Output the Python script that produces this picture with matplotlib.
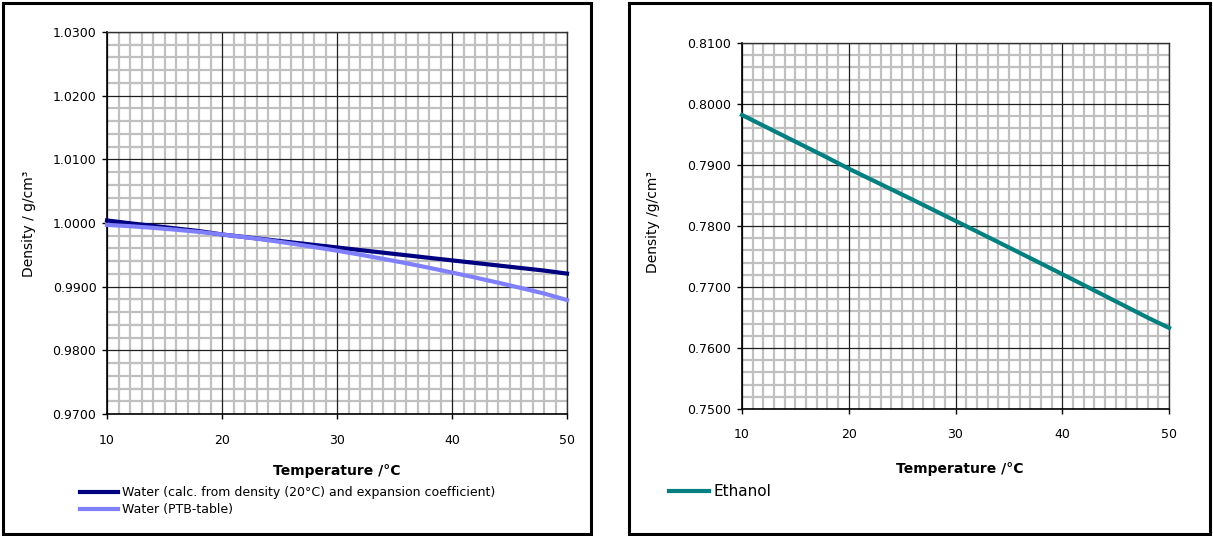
import matplotlib
matplotlib.use("Agg")
import matplotlib.pyplot as plt
from matplotlib.patches import Rectangle
from matplotlib.ticker import MultipleLocator, FormatStrFormatter

plt.rcParams['font.family'] = ['DejaVu Sans']

# ---- data ----
temps = [10, 12, 14, 16, 18, 20, 22, 24, 26, 28, 30, 32, 34, 36, 38, 40, 42, 44, 46, 48, 50]
water_calc = [1.00040, 0.99996, 0.99955, 0.99914, 0.99873, 0.99820, 0.99779, 0.99738, 0.99697,
              0.99656, 0.99616, 0.99575, 0.99534, 0.99494, 0.99453, 0.99413, 0.99373, 0.99333,
              0.99293, 0.99253, 0.99205]
water_ptb = [0.99970, 0.99950, 0.99924, 0.99894, 0.99860, 0.99820, 0.99777, 0.99730, 0.99678,
             0.99623, 0.99565, 0.99503, 0.99437, 0.99369, 0.99297, 0.99222, 0.99144, 0.99063,
             0.98979, 0.98893, 0.98790]
ethanol = [0.79820, 0.79645, 0.79470, 0.79295, 0.79120, 0.78940, 0.78770, 0.78600, 0.78430,
           0.78257, 0.78084, 0.77910, 0.77736, 0.77561, 0.77386, 0.77210, 0.77033, 0.76855,
           0.76677, 0.76498, 0.76330]

x_ticks = [10, 20, 30, 40, 50]
left_yticks = [0.9700, 0.9800, 0.9900, 1.0000, 1.0100, 1.0200, 1.0300]
right_yticks = [0.7500, 0.7600, 0.7700, 0.7800, 0.7900, 0.8000, 0.8100]

label_calc = "Water (calc. from density (20°C) and expansion coefficient)"
label_ptb = "Water (PTB-table)"
label_eth = "Ethanol"

W, H = 1213, 536
fig = plt.figure(figsize=(W / 100, H / 100), dpi=100)

def px_rect(x0, y0, x1, y1):
    return [x0 / W, 1 - y1 / H, (x1 - x0) / W, (y1 - y0) / H]

# panel frames
for (x0, y0, x1, y1) in [(3, 3, 591, 534), (629, 3, 1210, 534)]:
    fig.patches.append(Rectangle((x0 / W, 1 - y1 / H), (x1 - x0) / W, (y1 - y0) / H,
                                 transform=fig.transFigure, fill=False,
                                 edgecolor='black', linewidth=2.2))

def style_axes(ax, yticks, xpad):
    ax.set_xlim(10, 50)
    ax.set_ylim(yticks[0], yticks[-1])
    ax.set_xticks(x_ticks)
    ax.set_yticks(yticks)
    ax.yaxis.set_major_formatter(FormatStrFormatter('%.4f'))
    ax.xaxis.set_minor_locator(MultipleLocator(1))
    ax.yaxis.set_minor_locator(MultipleLocator(0.002))
    ax.grid(which='minor', color='#c0c0c0', linewidth=1.6)
    ax.set_axisbelow(True)
    # major grid lines drawn above the minor grid
    for xv in x_ticks:
        ax.axvline(xv, color='#202020', linewidth=0.9, zorder=1)
    for yv in yticks:
        ax.axhline(yv, color='#202020', linewidth=0.9, zorder=1)
    ax.tick_params(which='minor', length=0)
    ax.tick_params(which='major', direction='out', length=3.6, width=1, labelsize=9)
    ax.tick_params(axis='y', pad=4)
    ax.tick_params(axis='x', pad=xpad)
    for s in ['top', 'right']:
        ax.spines[s].set_color('#303030')
        ax.spines[s].set_linewidth(1.0)
    for s in ['left', 'bottom']:
        ax.spines[s].set_color('black')
        ax.spines[s].set_linewidth(1.2)

# ---- left ----
axL = fig.add_axes(px_rect(107, 32, 567, 414))
style_axes(axL, left_yticks, 11)
l1, = axL.plot(temps, water_calc, color='#000080', linewidth=3, clip_on=False,
               solid_capstyle='projecting', zorder=3)
l2, = axL.plot(temps, water_ptb, color='#8080ff', linewidth=3, clip_on=False,
               solid_capstyle='projecting', zorder=3)
fig.text(337 / W, 1 - 471 / H, "Temperature /°C", ha='center', va='center',
         fontsize=10, fontweight='bold')
fig.text(29 / W, 1 - 224 / H, "Density / g/cm³", ha='center', va='center',
         fontsize=10, rotation=90)
fig.legend([l1, l2], [label_calc, label_ptb], loc='upper left',
           bbox_to_anchor=(80 / W, 1 - 486 / H), frameon=False, fontsize=9,
           handlelength=3.05, handletextpad=0.3, borderpad=0, borderaxespad=0,
           labelspacing=0.35)

# ---- right ----
axR = fig.add_axes(px_rect(742, 43, 1169, 409))
style_axes(axR, right_yticks, 10)
l3, = axR.plot(temps, ethanol, color='#008080', linewidth=3, clip_on=False,
               solid_capstyle='projecting', zorder=3)
fig.text(960 / W, 1 - 469 / H, "Temperature /°C", ha='center', va='center',
         fontsize=10, fontweight='bold')
fig.text(653 / W, 1 - 222 / H, "Density /g/cm³", ha='center', va='center',
         fontsize=10, rotation=90)
fig.legend([l3], [label_eth], loc='upper left',
           bbox_to_anchor=(669 / W, 1 - 484 / H), frameon=False, fontsize=11,
           handlelength=2.6, handletextpad=0.3, borderpad=0, borderaxespad=0)

fig.savefig("out.png", dpi=100)
